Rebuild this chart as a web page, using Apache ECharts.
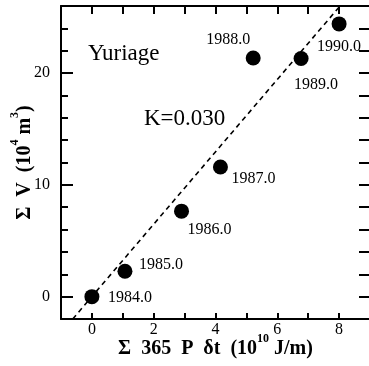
<!DOCTYPE html>
<html>
<head>
<meta charset="utf-8">
<script src="https://cdn.jsdelivr.net/npm/echarts@6/dist/echarts.min.js"></script>
<style>
html, body { margin: 0; padding: 0; background: #fff; }
#chart { width: 369px; height: 366px; }
</style>
</head>
<body>
<div id="chart"></div>
<script>
// data
var years = ['1984.0', '1985.0', '1986.0', '1987.0', '1988.0', '1989.0', '1990.0'];
var energy = [0, 1.07, 2.9, 4.16, 5.22, 6.77, 8.0];
var volume = [0, 2.27, 7.65, 11.6, 21.35, 21.3, 24.4];
// dashed fit line, K=0.030
var fitX = [-0.62, 8.03];
var fitY = [-2, 26];
var xLabels = [0, 2, 4, 6, 8];
var yLabels = [0, 10, 20];

var font = 'Liberation Serif';

// where each year label sits relative to its dot
var labelShift = [[38, 1], [36, -6], [28, 19], [33, 12], [-25, -18], [15, 26], [0, 23]];

var points = [];
for (var i = 0; i < years.length; i++) {
    points.push({
        name: years[i],
        value: [energy[i], volume[i]],
        label: { offset: labelShift[i] }
    });
}
var fit = [];
for (var j = 0; j < fitX.length; j++) {
    fit.push([fitX[j], fitY[j]]);
}

var nameRich = {
    b: { fontFamily: font, fontSize: 20, fontWeight: 'bold', color: '#000', lineHeight: 26, verticalAlign: 'bottom' },
    s: { fontFamily: font, fontSize: 12, fontWeight: 'bold', color: '#000', lineHeight: 12, verticalAlign: 'top' }
};
var frameLine = { onZero: false, lineStyle: { color: '#000', width: 2 } };

var chart = echarts.init(document.getElementById('chart'));
var option = {
    animation: false,
    backgroundColor: '#fff',
    grid: { left: 61, top: 6, width: 309, height: 313, containLabel: false, outerBoundsMode: 'none' },
    graphic: [
        {
            type: 'text', left: 88, top: 42,
            style: { text: 'Yuriage', font: '23px "Liberation Serif"', fill: '#000' }
        },
        {
            type: 'text', left: 144, top: 107,
            style: { text: 'K=0.030', font: '23px "Liberation Serif"', fill: '#000' }
        }
    ],
    xAxis: [
        {
            type: 'value', position: 'bottom', min: -1, max: 9, interval: 1,
            splitLine: { show: false },
            axisLine: frameLine,
            axisTick: { inside: true, length: 6, lineStyle: { color: '#000', width: 2 } },
            axisLabel: {
                color: '#000', fontFamily: font, fontSize: 16, margin: 3,
                formatter: function (v) { return xLabels.indexOf(v) >= 0 ? String(v) : ''; }
            },
            name: '{b|Σ  365  P  δt  (10}{s|10}{b| J/m)}',
            nameLocation: 'middle', nameGap: 14, nameMoveOverlap: false,
            nameTextStyle: { rich: nameRich }
        },
        {
            type: 'value', position: 'top', min: -1, max: 9, interval: 1,
            splitLine: { show: false },
            axisLine: frameLine,
            axisTick: { inside: true, length: 8, lineStyle: { color: '#000', width: 2 } },
            axisLabel: { show: false }
        }
    ],
    yAxis: [
        {
            type: 'value', position: 'left', min: -2, max: 26, interval: 2,
            splitLine: { show: false },
            axisLine: frameLine,
            axisTick: { inside: true, length: 7, lineStyle: { color: '#000', width: 2 } },
            axisLabel: {
                color: '#000', fontFamily: font, fontSize: 16, margin: 11,
                formatter: function (v) { return yLabels.indexOf(v) >= 0 ? String(v) : ''; }
            },
            name: '{b|Σ  V  (10}{s|4}{b| m}{s|3}{b|)}',
            nameLocation: 'middle', nameGap: 26, nameRotate: 90, nameMoveOverlap: false,
            nameTextStyle: { rich: nameRich }
        },
        {
            type: 'value', position: 'left', min: -2, max: 26,
            splitLine: { show: false },
            axisLine: { show: false, onZero: false },
            axisTick: { inside: true, length: 12, customValues: yLabels, lineStyle: { color: '#000', width: 2 } },
            axisLabel: { show: false }
        },
        {
            type: 'value', position: 'right', min: -2, max: 26, interval: 2,
            splitLine: { show: false },
            axisLine: frameLine,
            axisTick: { inside: true, length: 11, lineStyle: { color: '#000', width: 2 } },
            axisLabel: { show: false }
        }
    ],
    series: [
        {
            type: 'line',
            data: fit,
            xAxisIndex: 0, yAxisIndex: 0,
            symbol: 'none',
            lineStyle: { color: '#000', width: 1.6, type: [5, 4] },
            z: 1
        },
        {
            type: 'scatter',
            data: points,
            xAxisIndex: 0, yAxisIndex: 0,
            symbol: 'circle',
            symbolSize: 15,
            itemStyle: { color: '#000', opacity: 1 },
            label: {
                show: true, position: 'inside', formatter: '{b}',
                color: '#000', fontFamily: font, fontSize: 16
            },
            z: 3
        }
    ]
};
chart.setOption(option);
</script>
</body>
</html>
